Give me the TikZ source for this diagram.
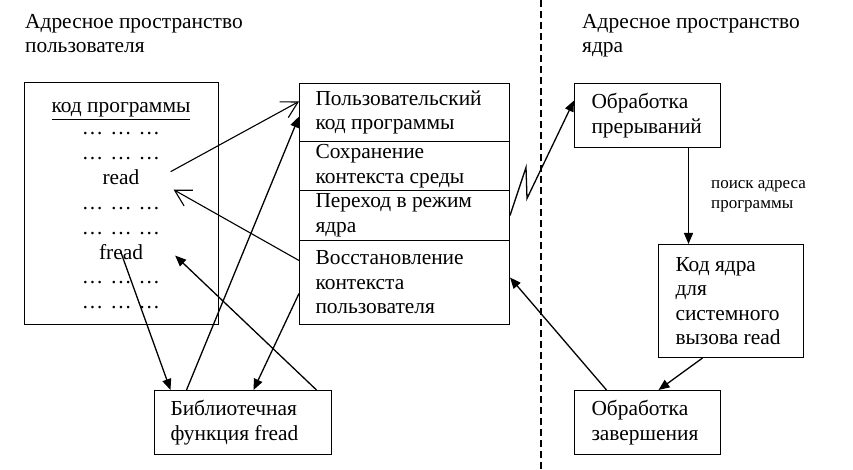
\documentclass[tikz,border=0pt]{standalone}
\usepackage{fontspec}
\setmainfont{Liberation Serif}
\usetikzlibrary{arrows.meta}
\usetikzlibrary{positioning}

\tikzset{
  box/.style={draw, line width=1pt, inner xsep=16pt, inner ysep=0pt, align=flush left,
    font=\fontsize{21.4}{24.5}\selectfont},
  txt/.style={inner sep=0pt, font=\fontsize{21.4}{24.5}\selectfont},
  arr/.style={line width=1.3pt, -{Triangle[length=11pt,width=9pt]}},
  openarr/.style={line width=1.1pt, -{Straight Barb[length=16pt,width=18pt]}},
}

\begin{document}
\begin{tikzpicture}[x=1pt, y=-1pt]
    \useasboundingbox (0,0) rectangle (853,470);

    % заголовки
    \node[txt, align=left, anchor=north west] (hUser) at (25,14) {Адресное пространство\\пользователя};
    \node[txt, align=left, anchor=north west] (hKernel) at (582,14) {Адресное пространство\\ядра};
    \draw[line width=1.2pt, dash pattern=on 7pt off 4pt] (541,0) -- (541,470);

    % программа пользователя
    \node[draw, line width=1pt, minimum width=194pt, minimum height=242pt, anchor=north west] (user) at (24,82) {};
    \node[txt, anchor=base] (code) at (121,113) {\underline{код программы}};
    \foreach \y in {135,160,210,235,283,308}
        \node[txt, anchor=base] at (121,\y) {…\hspace{7pt}…\hspace{7pt}…};
    \node[txt, anchor=base] (read) at (121,185) {read};
    \node[txt, anchor=base] (fread) at (121,259) {fread};

    % этапы вызова
    \node[box, text width=178pt, minimum height=58pt, anchor=north west] (s1) at (299,83) {Пользовательский\\код программы};
    \node[box, text width=178pt, minimum height=49pt, below=-1pt of s1] (s2) {Сохранение\\контекста среды};
    \node[box, text width=178pt, minimum height=50pt, below=-1pt of s2] (s3) {Переход в режим\\ядра};
    \node[box, text width=178pt, minimum height=84pt, below=-1pt of s3] (s4) {Восстановление\\контекста\\пользователя};

    % ядро
    \node[box, inner xsep=17pt, text width=112pt, minimum height=64pt, right=64pt of s1.north east, anchor=north west] (intr) {Обработка\\прерываний};
    \node[box, inner xsep=17pt, text width=111pt, minimum height=113pt, anchor=north west] (kernel) at (658,244) {Код ядра\\для\\системного\\вызова read};
    \node[box, inner xsep=17pt, text width=112pt, minimum height=64pt, below=242pt of intr.south west, anchor=north west] (finish) {Обработка\\завершения};
    \node[box, text width=145pt, minimum height=64pt, left=242pt of finish] (lib) {Библиотечная\\функция fread};

    % стрелки
    \draw[openarr] ([xshift=31pt,yshift=6pt]read.east) -- ([yshift=11pt]s1.west);
    \draw[openarr] ([yshift=22pt]s4.west) -- ([xshift=34pt,yshift=-12pt]read.east);
    \draw[arr] ([yshift=-1pt]fread.center) -- ([xshift=-72.5pt]lib.north);
    \draw[arr] ([xshift=-56.5pt]lib.north) -- ([yshift=-4pt]s1.west);
    \draw[arr] ([xshift=73.5pt]lib.north) -- ([xshift=32pt,yshift=-4pt]fread.east);
    \draw[arr] ([yshift=-11pt]s4.west) -- ([xshift=10.5pt]lib.north);
    \draw[arr] (s3.east) -- ++(16,-48) -- ++(1,31) -- ([yshift=15pt]intr.west);
    \draw[arr] ([xshift=41pt]intr.south) -- ([xshift=41pt]intr.south |- kernel.north)
        node[midway, right=22pt, align=left, inner sep=0pt, font=\fontsize{17}{20}\selectfont] (search) {поиск адреса\\программы};
    \draw[arr] ([xshift=-28.5pt]kernel.south) -- ([xshift=11pt]finish.north);
    \draw[arr] ([xshift=-41pt]finish.north) -- ([yshift=5pt]s4.east);
\end{tikzpicture}
\end{document}
